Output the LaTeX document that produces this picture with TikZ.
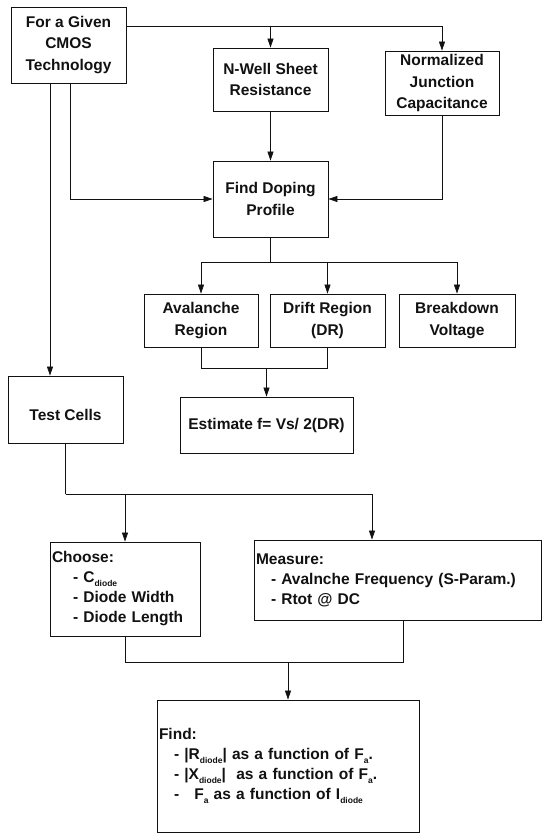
\documentclass[tikz,border=0pt]{standalone}
\usepackage{fontspec}
\setmainfont{Liberation Sans}
\usetikzlibrary{arrows.meta, positioning, calc}
\definecolor{ink}{HTML}{111111}

\newcommand{\boxfont}{\fontsize{15.5}{21.5}\selectfont\bfseries}
\newcommand{\listfont}{\fontsize{15.5}{20}\selectfont\bfseries}
\newcommand{\dsub}[1]{\raisebox{-3.5pt}{\fontsize{8.5}{8.5}\selectfont #1}}

\tikzset{
  stepbox/.style={draw=ink, line width=0.8pt, align=center, inner sep=0pt,
    font=\boxfont, text=ink},
  listbox/.style={draw=ink, line width=0.8pt, align=left, inner xsep=2pt,
    inner ysep=0pt, font=\listfont, text=ink},
  wire/.style={draw=ink, line width=0.7pt},
  arr/.style={wire, -{Triangle[length=9pt, width=6pt]}},
}

\begin{document}
\begin{tikzpicture}[x=1pt, y=-1pt]
    \useasboundingbox (0,0) rectangle (542,834);

    \node[stepbox, minimum width=115pt, minimum height=76pt] (tech) at (68.5,45)
      {For a Given\\CMOS\\Technology};
    \node[stepbox, minimum width=115pt, minimum height=63pt] (nwell) at (270.5,79.5)
      {N-Well Sheet\\Resistance};
    \node[stepbox, minimum width=114pt, minimum height=64pt] (njc) at (442,83)
      {Normalized\\Junction\\Capacitance};
    \node[stepbox, minimum width=115pt, minimum height=76pt] (doping) at (270.5,199)
      {Find Doping\\Profile};

    \node[stepbox, minimum width=114pt, minimum height=53pt] (aval) at (201,320.5)
      {Avalanche\\Region};
    \node[stepbox, minimum width=115pt, minimum height=53pt] (drift) at (327.5,320.5)
      {Drift Region\\(DR)};
    \node[stepbox, minimum width=116pt, minimum height=53pt] (brk) at (457,320.5)
      {Breakdown\\Voltage};
    \node[stepbox, minimum width=173pt, minimum height=56pt] (est) at (266.5,425)
      {Estimate f= Vs/ 2(DR)};
    \node[stepbox, minimum width=115pt, minimum height=67pt] (test) at (65.5,409.5)
      {\rule{0pt}{23pt}Test Cells};

    \node[listbox, minimum width=150pt, minimum height=94pt, text width=146pt] (choose)
      at (125,589)
      {Choose:\\
       \hspace*{21pt}- C\dsub{diode}\\
       \hspace*{21pt}- Diode Width\\
       \hspace*{21pt}- Diode Length};
    \node[listbox, minimum width=287pt, minimum height=80pt, text width=283pt] (measure)
      at (397.5,580)
      {Measure:\\
       \hspace*{15pt}- Avalnche Frequency (S-Param.)\\
       \hspace*{15pt}- Rtot @ DC};
    \node[listbox, minimum width=262pt, minimum height=132pt, text width=258pt] (find)
      at (288,766)
      {Find:\\
       \hspace*{15pt}- |R\dsub{diode}| as a function of F\dsub{a}.\\
       \hspace*{15pt}- |X\dsub{diode}|\ \ as a function of F\dsub{a}.\\
       \hspace*{15pt}-\hspace{10pt} F\dsub{a} as a function of I\dsub{diode}};

    \coordinate (feed) at ([yshift=-20pt]tech.north east);
    \coordinate (techleft) at ([xshift=-18.5pt]tech.south);
    \coordinate (techright) at ([xshift=1.5pt]tech.south);
    \coordinate (fan) at ([yshift=-25pt]doping.south);
    \coordinate (merge) at ([yshift=-21pt]aval.south);
    \coordinate (split) at ([yshift=-51pt]test.south);
    \coordinate (join) at ([yshift=-26pt]choose.south);

    \draw[arr] (feed) -| (njc.north);
    \draw[arr] (nwell.north |- feed) -- (nwell.north);
    \draw[arr] (nwell.south) -- (doping.north);
    \draw[arr] (techright) |- (doping.west);
    \draw[arr] (njc.south) |- (doping.east);
    \draw[arr] (techleft) -- (techleft |- test.north);

    \draw[wire] (doping.south) -- (fan);
    \draw[arr] (fan) -| (aval.north);
    \draw[arr] (fan) -| (drift.north);
    \draw[arr] (fan) -| (brk.north);

    \draw[wire] (aval.south) -- (merge) -| (drift.south);
    \draw[arr] (est.north |- merge) -- (est.north);

    \draw[wire] (test.south) -- (split);
    \draw[arr] (split) -| (choose.north);
    \draw[arr] (split) -| ([xshift=-25.5pt]measure.north);

    \draw[wire] (choose.south) -- (join) -| ([xshift=5.5pt]measure.south);
    \draw[arr] (find.north |- join) -- (find.north);
  \end{tikzpicture}
\end{document}
